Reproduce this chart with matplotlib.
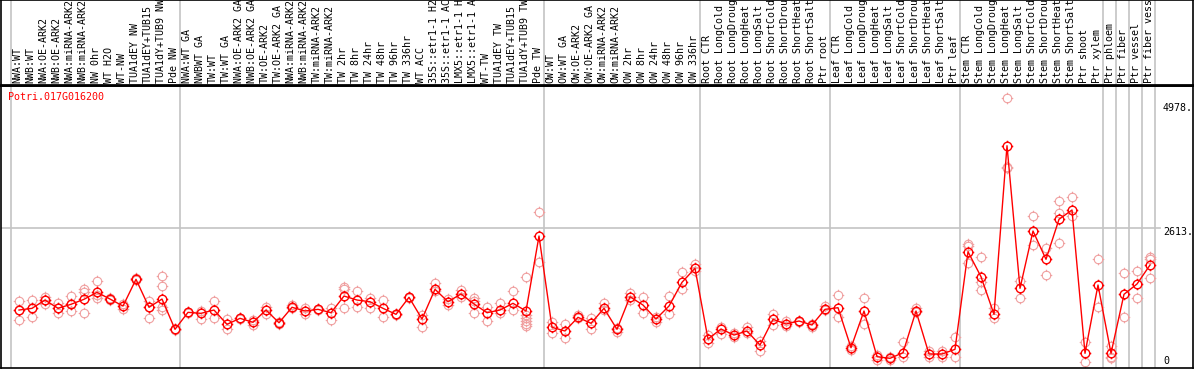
import matplotlib
matplotlib.use("Agg")
import matplotlib.pyplot as plt
from matplotlib.path import Path

# column labels (88 samples)
labels = [
    "NWA:WT", "NWB:WT", "NWA:OE-ARK2", "NWB:OE-ARK2", "NWA:miRNA-ARK2", "NWB:miRNA-ARK2",
    "NW 0hr", "WT H2O", "WT-NW", "TUA1dEY NW", "TUA1dEY+TUB15", "TUA1dY+TUB9 NW", "Pde NW",
    "NWA:WT GA", "NWBWT GA", "TW:WT", "TW:WT GA", "NWA:OE-ARK2 GA", "NWB:OE-ARK2 GA",
    "TW:OE-ARK2", "TW:OE-ARK2 GA", "NWA:miRNA-ARK2", "NWB:miRNA-ARK2", "TW:miRNA-ARK2",
    "TW:miRNA-ARK2", "TW 2hr", "TW 8hr", "TW 24hr", "TW 48hr", "TW 96hr", "TW 336hr",
    "WT ACC", "35S::etr1-1 H2", "35S::etr1-1 AC", "LMX5::etr1-1 H", "LMX5::etr1-1 A",
    "WT-TW", "TUA1dEY TW", "TUA1dEY+TUB15", "TUA1dY+TUB9 TW", "Pde TW",
    "OW:WT", "OW:WT GA", "OW:OE-ARK2", "OW:OE-ARK2 GA", "OW:miRNA-ARK2", "OW:miRNA-ARK2",
    "OW 2hr", "OW 8hr", "OW 24hr", "OW 48hr", "OW 96hr", "OW 336hr",
    "Root CTR", "Root LongCold", "Root LongDroug", "Root LongHeat", "Root LongSalt",
    "Root ShortCold", "Root ShortDrou", "Root ShortHeat", "Root ShortSalt", "Ptr root",
    "Leaf CTR", "Leaf LongCold", "Leaf LongDroug", "Leaf LongHeat", "Leaf LongSalt",
    "Leaf ShortCold", "Leaf ShortDrou", "Leaf ShortHeat", "Leaf ShortSalt", "Ptr leaf",
    "Stem CTR", "Stem LongCold", "Stem LongDroug", "Stem LongHeat", "Stem LongSalt",
    "Stem ShortCold", "Stem ShortDrou", "Stem ShortHeat", "Stem ShortSalt",
    "Ptr shoot", "Ptr xylem", "Ptr phloem", "Ptr fiber", "Ptr vessel", "Ptr fiber vess",
]

# sizes of the groups separated by gray lines
group_sizes = [13, 28, 12, 10, 10, 11, 1, 1, 1, 1]

# mean expression per sample
means = [
    1052, 1084, 1242, 1084, 1161, 1256, 1389, 1261, 1128, 1636, 1104, 1261, 685,
    1008, 989, 1052, 780, 894, 818, 1052, 810, 1104, 1033, 1065, 1001, 1318, 1242,
    1210, 1084, 970, 1294, 881, 1446, 1210, 1357, 1166, 1001, 1052, 1180, 1033, 2460,
    723, 653, 913, 799, 1084, 685, 1305, 1147, 881, 1128, 1579, 1846,
    500, 691, 576, 653, 386, 875, 786, 843, 767, 1065,
    1096, 335, 1033, 164, 133, 240, 1033, 215, 215, 304,
    2161, 1686, 970, 4178, 1465, 2555, 2017, 2778, 2955,
    228, 1528, 228, 1351, 1547, 1908,
]

# replicate values per sample
reps = [
    [1223, 862, 1060], [1242, 913, 1090], [1305, 1161, 1250], [1180, 989, 1090],
    [1318, 1033, 1170], [1446, 1400, 989], [1604, 1286, 1338], [1280, 1242],
    [1065, 1166], [1655, 1623], [1223, 894, 1110], [1699, 1509, 1115, 1052], [672, 700],
    [1020, 995], [1033, 881], [1223, 894], [881, 685], [906, 881], [767, 862],
    [1109, 976], [830, 795], [1147, 1090], [970, 1084], [1077, 1052], [1084, 862],
    [1484, 1446, 1084], [1414, 1104], [1286, 1084], [1242, 925], [985, 957],
    [1309, 1280], [957, 734], [1560, 1414], [1256, 1147], [1433, 1305],
    [1286, 989, 1223], [1104, 843], [1191, 989], [1414, 1052],
    [1686, 957, 900, 843, 786, 748], [2917, 1971],
    [830, 620], [786, 514], [957, 900], [894, 685], [1180, 1052], [639, 710],
    [1381, 1242], [1305, 1001], [830, 919], [1318, 976], [1781, 1446], [1927, 1794],
    [576, 430], [723, 596], [609, 548], [734, 615], [468, 278], [970, 767],
    [843, 748], [849, 824], [786, 738], [1128, 1043],
    [1338, 913], [297, 367], [1275, 780], [101, 196], [101, 158], [438, 164],
    [1096, 1005], [278, 152], [278, 164], [533, 164],
    [2308, 1941, 2279], [2055, 1591, 1433], [1084, 894], [5080, 3748, 3782],
    [1604, 1275], [2846, 2289], [2226, 1718], [3126, 2892, 2321], [3196, 2841],
    [449, 57], [2017, 1115], [367, 164, 148], [1750, 913], [1800, 1275],
    [2066, 1655, 2022],
]

gene = "Potri.017G016200"
tick_vals = [4978, 2613, 0]

mono = "DejaVu Sans Mono"
red = "#ff0000"
pink = "#f0a0a0"
gray = "#c4c4c4"

# circle marker with little ticks
ticks = [Path([(0, 1), (0, 1.35)]), Path([(0, -1), (0, -1.35)]),
         Path([(1, 0), (1.35, 0)]), Path([(-1, 0), (-1.35, 0)])]
gear = Path.make_compound_path(Path.unit_circle(), *ticks)

W, H = 1194, 370
fig = plt.figure(figsize=(W / 100, H / 100), dpi=100)
x0, x1 = 1 / W, 1193 / W
ax = fig.add_axes([x0, 1 - 368 / H, x1 - x0, (368 - 86) / H])
axh = fig.add_axes([x0, 1 - 85 / H, x1 - x0, 85 / H])

n = len(labels)
xs = list(range(n))
xlim = ((1 - 19) / 13, (1193 - 19) / 13)

# separators
bounds = [0]
for g in group_sizes:
    bounds.append(bounds[-1] + g)
for b in bounds:
    for a in (ax, axh):
        a.axvline(b - 0.62, color=gray, lw=1.2, zorder=0)

ax.axhline(tick_vals[1], xmin=0, xmax=(87.8 - xlim[0]) / (xlim[1] - xlim[0]),
           color=gray, lw=1.2, zorder=0)

# replicates
for i, r in enumerate(reps):
    ax.plot([i] * len(r), r, linestyle="none", marker=gear, ms=8.3,
            mfc="none", mec=pink, mew=0.8, zorder=2)

# mean line and markers
ax.plot(xs, means, color=red, lw=1.0, zorder=3)
ax.plot(xs, means, linestyle="none", marker=gear, ms=8.3,
        mfc="none", mec=red, mew=1.0, zorder=4)

ax.set_xlim(xlim)
ax.set_ylim(-51, 5314)
ax.set_xticks([])
ax.set_yticks([])

for v, dy in zip(tick_vals, [-4, -4, 4]):
    ax.annotate(f"{v}." if v else "0", (88.0, v), xytext=(0, dy),
                textcoords="offset pixels", ha="left", va="center",
                fontsize=7.2, family=mono, color="black")

ax.text(-0.85, 5105, gene, color=red, fontsize=7.2, family=mono,
        ha="left", va="center")

# header with rotated sample names
axh.set_xlim(xlim)
axh.set_ylim(0, 1)
axh.set_xticks([])
axh.set_yticks([])
for i, lab in enumerate(labels):
    axh.text(i - 0.1, 0.025, lab, rotation=90, ha="center", va="bottom",
             fontsize=7.2, family=mono, clip_on=True)

for a in (ax, axh):
    for s in a.spines.values():
        s.set_color("black")
        s.set_linewidth(1.2)
axh.spines["bottom"].set_linewidth(2)

fig.savefig("out.png", dpi=100)
